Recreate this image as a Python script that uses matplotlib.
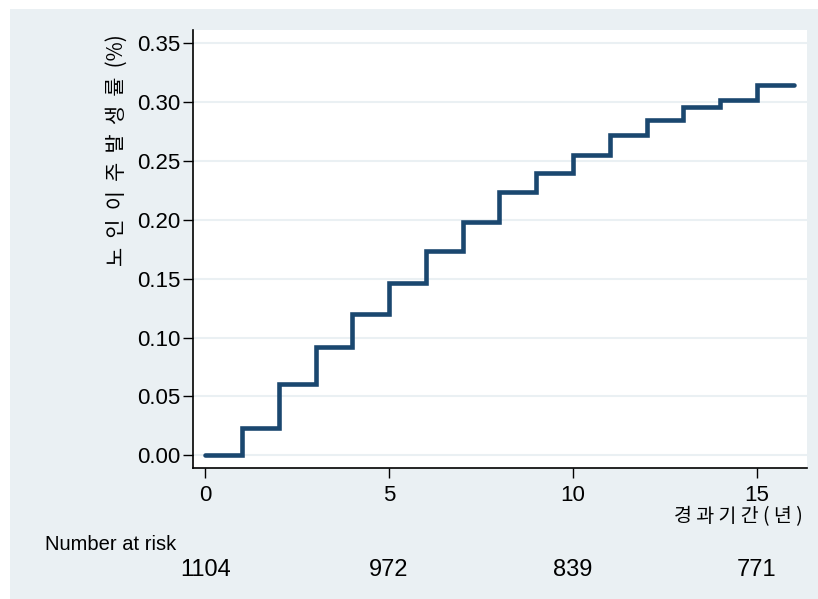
import numpy as np
import matplotlib.pyplot as plt
from matplotlib.patches import Rectangle
from matplotlib.transforms import blended_transform_factory

plt.rcParams['font.family'] = ['Liberation Sans', 'DejaVu Sans']

# Cumulative incidence by year (step function)
years = [0, 1, 2, 3, 4, 5, 6, 7, 8, 9, 10, 11, 12, 13, 14, 15, 16]
incidence = [0.000, 0.0235, 0.061, 0.092, 0.120, 0.146, 0.174, 0.198, 0.224,
             0.240, 0.255, 0.272, 0.285, 0.296, 0.302, 0.3145, 0.3145]

risk_times = [0, 5, 10, 15]
risk_counts = [1104, 972, 839, 771]

ytick_vals = [0.00, 0.05, 0.10, 0.15, 0.20, 0.25, 0.30, 0.35]

bg = '#eaf0f3'
navy = '#1a476f'

fig = plt.figure(figsize=(8.18, 5.99), dpi=100)
fig.patch.set_facecolor('white')
fig.patches.append(Rectangle((10 / 818, 0), 1 - 10 / 818, 1 - 9 / 599,
                             transform=fig.transFigure, facecolor=bg,
                             edgecolor='none', zorder=-10))

ax = fig.add_axes([193 / 818, 131 / 599, 614 / 818, 438 / 599])
ax.set_facecolor('white')
ax.step(years, incidence, where='post', color=navy, lw=3.3,
        solid_capstyle='round', solid_joinstyle='miter', zorder=3)

ax.set_xlim(-0.33, 16.36)
ax.set_ylim(-0.0108, 0.3614)
ax.set_xticks(risk_times)
ax.set_yticks(ytick_vals)
ax.set_yticklabels([f'{v:.2f}' for v in ytick_vals])
ax.grid(axis='y', color=bg, lw=1.5, zorder=1)
ax.set_axisbelow(True)

for s in ['top', 'right']:
    ax.spines[s].set_visible(False)
ax.spines['left'].set_linewidth(1.2)
ax.spines['bottom'].set_linewidth(1.2)
ax.tick_params(axis='both', direction='out', length=7, width=1,
               labelsize=16, colors='black')
ax.tick_params(axis='y', pad=2)
ax.tick_params(axis='x', pad=5)

kr = ['Noto Sans CJK KR', 'DejaVu Sans']

# axis titles
fig.text(803 / 818, 1 - 517 / 599, '경 과 기 간 ( 년 )', ha='right', va='center',
         fontsize=14, family=kr)
fig.text(117 / 818, 1 - 150 / 599, '노  인  이  주  발  생  률  (%)', rotation=90,
         ha='center', va='center', fontsize=15, family=kr)

# number at risk table
fig.text(45 / 818, 1 - 544 / 599, 'Number at risk', ha='left', va='center',
         fontsize=14.5)
trans = blended_transform_factory(ax.transData, fig.transFigure)
for t, n in zip(risk_times, risk_counts):
    ax.text(t, 1 - 570 / 599, str(n), transform=trans, ha='center',
            va='center', fontsize=17, clip_on=False)

plt.savefig('out.png', dpi=100, facecolor=fig.get_facecolor())
